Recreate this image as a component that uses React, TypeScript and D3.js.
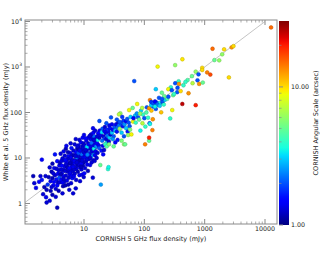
import React from 'react';
import * as d3 from 'd3';

// [CORNISH flux (mJy), White et al. flux (mJy), angular scale (arcsec)]
const faintSources: [number, number, number][] = [
  [1.5, 2.8, 1.3], [1.44, 4.0, 1.2], [1.6, 2.2, 1.4], [1.9, 4.0, 1.3], [2.0, 9.2, 1.5], [2.2, 2.3, 1.2], [2.4, 1.05, 1.3],
  [2.35, 1.37, 1.4], [2.0, 3.3, 1.6], [2.4, 2.0, 1.2], [2.3, 4.0, 1.3], [1.8, 3.0, 1.5], [2.5, 2.6, 1.8], [2.1, 1.6, 1.3],
  [2.7, 1.15, 1.3], [3.0, 1.55, 1.2], [3.4, 1.4, 1.3], [3.6, 0.81, 1.2], [2.8, 3.1, 1.4], [3.1, 2.5, 1.5], [3.3, 4.2, 1.3],
  [2.9, 5.0, 1.2], [3.5, 3.4, 1.6], [3.7, 2.9, 1.3], [2.6, 3.8, 1.2], [3.2, 6.0, 1.4], [3.8, 5.4, 1.3], [3.0, 7.5, 1.2],
  [3.6, 8.5, 1.5], [2.7, 6.2, 1.3], [3.9, 3.7, 2.0], [3.4, 2.1, 1.3], [3.0, 3.6, 1.2], [3.7, 4.5, 1.4], [2.9, 2.3, 1.3],
  [3.3, 12.0, 1.6], [3.8, 1.9, 1.2], [3.2, 3.0, 1.5], [3.5, 5.8, 1.3], [3.9, 6.8, 1.4], [3.1, 4.6, 1.3], [2.8, 1.9, 1.2],
  [3.6, 2.5, 1.5], [3.9, 2.9, 1.3],
  [4.1, 12.4, 1.3], [4.3, 4.7, 1.4], [4.4, 1.67, 1.3], [4.5, 2.4, 1.2], [4.2, 3.3, 1.5], [4.6, 5.5, 1.3], [4.8, 6.5, 1.4],
  [4.0, 7.8, 1.2], [4.7, 8.8, 1.6], [5.0, 4.1, 1.3], [5.2, 3.2, 1.4], [5.4, 5.0, 1.3], [5.1, 6.9, 1.5], [5.6, 7.5, 1.2],
  [5.3, 9.5, 1.3], [5.8, 4.4, 1.4], [6.0, 5.8, 1.3], [6.2, 8.2, 1.5], [5.5, 11.0, 1.4], [6.1, 2.8, 1.3], [4.9, 2.5, 1.2],
  [5.7, 2.0, 1.3], [6.4, 3.6, 1.6], [4.4, 9.8, 1.3], [4.6, 14.0, 1.4], [5.0, 16.0, 1.2], [5.9, 13.0, 1.5], [6.3, 11.5, 1.3],
  [4.2, 5.6, 1.3], [4.5, 4.0, 1.4], [4.9, 5.2, 1.3], [5.3, 6.2, 1.2], [5.6, 3.7, 1.3], [6.0, 4.8, 1.4], [6.3, 6.6, 1.5],
  [4.1, 4.4, 1.2], [4.7, 3.0, 1.3], [5.2, 8.0, 1.4], [5.8, 9.6, 1.3], [6.4, 7.4, 1.2], [4.3, 6.8, 1.5], [5.5, 5.6, 1.3],
  [6.1, 10.2, 1.4], [4.8, 11.2, 1.3], [5.4, 13.5, 1.2], [6.2, 16.5, 1.6], [5.0, 7.2, 1.3], [5.7, 6.0, 1.5], [6.5, 5.2, 1.3],
  [4.4, 2.9, 1.4], [6.6, 1.67, 1.3], [5.1, 18.5, 1.4], [6.0, 21.0, 1.3], [5.5, 2.6, 1.2], [4.6, 3.5, 1.3], [6.3, 4.1, 1.4],
  [4.2, 8.6, 1.3], [5.9, 7.8, 1.2], [4.9, 9.0, 1.5], [6.5, 9.0, 1.3],
];

const midSources: [number, number, number][] = [
  [7.3, 2.15, 1.3], [7.0, 4.5, 1.3], [7.5, 5.8, 1.4], [7.8, 7.0, 1.2], [8.2, 8.5, 1.3], [8.6, 6.2, 1.5], [9.0, 9.5, 1.3],
  [9.5, 11.0, 1.4], [7.2, 9.0, 1.3], [6.8, 11.5, 1.2], [7.6, 12.5, 1.6], [8.0, 14.0, 1.3], [8.8, 13.0, 1.4], [9.3, 15.5, 1.3],
  [9.8, 8.0, 1.2], [7.0, 7.8, 1.5], [7.4, 3.3, 1.3], [8.4, 4.2, 1.4], [9.1, 5.6, 1.3], [9.6, 6.8, 1.2], [6.9, 5.6, 1.3],
  [7.9, 10.0, 1.4], [8.5, 11.5, 1.3], [9.2, 12.0, 2.2], [9.9, 13.5, 1.3], [7.3, 26.0, 1.3], [8.1, 19.0, 1.4], [8.9, 22.0, 1.5],
  [9.4, 18.0, 1.3], [7.7, 16.0, 1.2], [6.7, 14.5, 1.3], [6.9, 8.6, 1.4], [7.5, 10.5, 2.5], [8.3, 7.2, 1.3], [8.7, 9.0, 1.2],
  [9.7, 10.2, 1.4], [7.1, 6.4, 1.3], [7.9, 5.0, 1.2], [8.6, 3.1, 1.3], [9.3, 4.3, 1.4], [9.9, 3.8, 1.3], [7.4, 13.5, 1.5],
  [8.0, 11.0, 1.3], [9.0, 7.6, 1.4], [9.6, 16.8, 1.3], [8.2, 16.5, 1.2], [7.0, 20.0, 1.3], [6.8, 3.9, 1.4], [8.4, 25.0, 1.3],
  [9.5, 28.0, 1.5], [7.6, 8.0, 1.3], [8.9, 6.4, 1.2], [9.8, 21.0, 1.3], [8.1, 12.8, 2.0], [7.2, 11.0, 1.3], [6.6, 6.4, 1.4],
  [9.3, 8.8, 1.3], [8.5, 14.6, 1.4], [7.8, 18.0, 1.3],
  [10.5, 12.0, 1.4], [11.0, 14.0, 1.3], [11.5, 10.5, 1.5], [12.0, 16.0, 1.3], [12.5, 13.0, 2.0], [13.0, 18.0, 1.4],
  [13.5, 15.5, 1.3], [14.0, 20.0, 1.5], [14.5, 12.5, 2.5], [15.0, 17.0, 1.3], [15.5, 22.0, 1.4], [10.8, 8.5, 1.3],
  [11.3, 7.2, 1.4], [12.2, 9.5, 1.3], [13.2, 11.0, 2.6], [14.2, 9.0, 1.3], [15.2, 11.5, 1.4], [10.2, 19.0, 1.3],
  [10.9, 24.0, 1.4], [11.8, 21.0, 1.3], [12.8, 26.0, 1.5], [13.8, 28.0, 1.3], [14.8, 30.0, 2.2], [15.8, 26.0, 1.4],
  [10.4, 6.0, 1.3], [11.6, 5.2, 1.2], [12.6, 7.0, 1.4], [14.0, 3.7, 1.3], [10.1, 4.6, 1.5], [11.2, 17.5, 3.2],
  [12.3, 12.0, 1.4], [13.6, 14.0, 1.3], [14.6, 16.0, 3.5], [15.6, 14.0, 1.4], [10.6, 15.0, 1.3], [11.9, 28.0, 1.4],
  [13.1, 33.0, 1.3], [14.3, 36.0, 1.5], [15.3, 40.0, 1.3], [10.3, 10.2, 1.4], [11.4, 11.8, 2.4], [12.7, 10.0, 1.3],
  [13.9, 24.0, 1.4], [15.0, 8.6, 1.3], [12.0, 20.0, 1.4], [13.3, 21.5, 2.2], [14.7, 25.0, 1.3], [10.7, 27.0, 1.5],
  [11.1, 9.2, 1.3], [14.9, 19.0, 1.4], [16.0, 18.0, 2.5], [12.4, 30.5, 1.3], [10.0, 32.0, 1.4], [13.4, 8.0, 1.3],
  [14.1, 45.0, 1.4],
  [16.5, 21.0, 1.5], [17.0, 25.0, 3.5], [17.5, 19.0, 1.4], [18.0, 28.0, 1.3], [18.6, 7.0, 5.0], [19.0, 2.6, 2.6],
  [19.0, 32.0, 1.4], [20.0, 24.0, 2.2], [21.0, 30.0, 1.3], [22.0, 27.0, 1.8], [23.0, 35.0, 1.4], [24.0, 22.0, 3.5],
  [25.0, 5.7, 3.8], [25.5, 6.3, 3.5], [16.8, 13.0, 1.3], [17.8, 16.5, 2.0], [19.5, 14.5, 1.6], [20.5, 18.5, 1.4],
  [21.5, 15.0, 1.3], [22.5, 20.0, 4.0], [23.5, 26.0, 1.3], [24.5, 31.0, 2.2], [25.5, 38.0, 1.4], [26.5, 28.0, 3.0],
  [27.5, 33.0, 1.3], [18.2, 40.0, 1.4], [20.2, 44.0, 2.0], [22.2, 48.0, 1.3], [24.2, 42.0, 1.7], [26.2, 52.0, 1.4],
  [18.0, 65.0, 2.0], [23.5, 58.0, 2.0], [28.0, 78.0, 2.0], [16.2, 10.0, 1.3], [17.2, 35.0, 1.5], [19.8, 37.0, 3.2],
  [21.8, 39.0, 1.4], [23.8, 18.0, 4.5], [25.8, 23.0, 1.3], [27.0, 45.0, 1.6], [16.6, 30.0, 1.3], [20.8, 12.0, 1.5],
  [26.0, 20.0, 5.5],
];

const brightSources: [number, number, number][] = [
  [29, 36, 3], [30, 42, 1.5], [31, 30, 2], [32, 48, 2], [33, 40, 3], [34, 55, 1.4], [35, 38, 1.6], [36, 46, 2.2],
  [37, 60, 1.3], [38, 52, 2.2], [39, 44, 6], [40, 96, 6], [38, 91, 7], [41, 58, 2], [42, 36, 3], [44, 50, 1.6],
  [45, 66, 1.8], [46, 20, 6], [47, 55, 2.5], [48, 20, 5], [50, 64, 1.5], [50, 45, 3], [52, 72, 2], [53, 38, 1.6],
  [55, 60, 2], [56, 113, 9], [57, 50, 2], [59, 80, 3], [30, 26, 2.5], [33, 22, 1.5], [29, 55, 1.4], [35, 70, 2],
  [43, 80, 1.8], [46, 30, 2], [54, 32, 6], [58, 42, 5.5], [31, 18, 5], [36, 25, 1.6], [42, 24, 5.5], [39, 62, 2],
  [61, 33, 9], [64, 126, 5], [65, 63, 9], [68, 490, 2], [70, 85, 3], [72, 60, 4], [75, 95, 2.5], [76, 154, 9],
  [79, 78, 2], [82, 70, 5], [86, 40, 3.5], [88, 110, 3], [92, 126, 7], [93, 58, 7], [95, 90, 4], [100, 75, 2],
  [103, 20, 14], [104, 49, 4], [110, 130, 2], [115, 77, 4], [120, 24, 5], [120, 28, 20], [120, 124, 13], [122, 58, 2],
  [124, 187, 14], [124, 56, 3.5], [131, 110, 11], [136, 41, 14], [138, 71, 13], [145, 150, 2], [150, 162, 1.8],
  [160, 165, 2], [170, 150, 2.5], [180, 160, 3.5], [66, 75, 1.5], [85, 95, 6], [108, 100, 4.5], [140, 135, 2],
  [155, 120, 2], [130, 145, 3], [130, 170, 1.8], [140, 160, 2], [150, 175, 1.5], [165, 150, 2.2], [180, 140, 3],
  [200, 165, 2], [210, 150, 4], [150, 135, 3.5],
  [190, 101, 11], [290, 113, 9], [268, 74, 4], [426, 154, 25], [710, 145, 20], [200, 180, 2], [220, 190, 3],
  [175, 210, 2], [240, 200, 4.5], [300, 240, 5], [350, 280, 2],
  [12600, 7400, 15], [166, 1020, 9], [324, 1100, 6], [427, 1480, 9.5], [1350, 2520, 15], [2100, 2450, 10],
  [2800, 2700, 13], [3000, 2880, 10], [1950, 1900, 6], [1450, 1420, 5], [1740, 1400, 6], [2520, 590, 10],
  [1100, 760, 14], [1240, 680, 17], [910, 960, 10], [910, 860, 10], [710, 790, 6], [790, 690, 2], [760, 510, 2],
  [615, 630, 5], [520, 515, 4.5], [480, 470, 4], [630, 440, 7], [810, 425, 13], [930, 455, 5], [370, 485, 4],
  [325, 440, 2], [375, 425, 13], [400, 295, 10], [540, 265, 13], [155, 325, 3], [355, 350, 2], [445, 395, 4],
  [275, 358, 4], [250, 325, 9], [285, 310, 2], [310, 255, 4], [195, 272, 5], [213, 230, 5], [250, 223, 2],
  [196, 200, 2],
];

const xMajor = [10, 100, 1000, 10000];
const yMajor = [1, 10, 100, 1000, 10000];
const cMajor = [1, 10];

const W = 322, H = 255;
const M = { left: 25, right: 277, top: 20, bottom: 224 };
const CB = { left: 279, right: 289, top: 21, bottom: 225 };
const FONT = 'DejaVu Sans, sans-serif';
const AXIS = '#8a8a8a';

// matplotlib "jet"
const jr = d3.scaleLinear<number>().domain([0, 0.35, 0.66, 0.89, 1]).range([0, 0, 1, 1, 0.5]).clamp(true);
const jg = d3.scaleLinear<number>().domain([0, 0.125, 0.375, 0.64, 0.91, 1]).range([0, 0, 1, 1, 0, 0]).clamp(true);
const jb = d3.scaleLinear<number>().domain([0, 0.11, 0.34, 0.65, 1]).range([0.5, 1, 1, 0, 0]).clamp(true);
const jet = (t: number) => d3.rgb(jr(t) * 255, jg(t) * 255, jb(t) * 255);

function minors(lo: number, hi: number) {
  const out: number[] = [];
  for (let e = -1; e <= 4; e++) {
    for (let k = 2; k <= 9; k++) {
      const v = k * Math.pow(10, e);
      if (v > lo && v < hi) out.push(v);
    }
  }
  return out;
}

const App: React.FC = () => {
  const x = d3.scaleLog().domain([1.052, 15800]).range([M.left, M.right]);
  const y = d3.scaleLog().domain([0.354, 10790]).range([M.bottom, M.top]);
  const c = d3.scaleLog().domain([1, 30]).range([CB.bottom, CB.top]);
  const t = d3.scaleLog().domain([1, 30]).range([0, 1]).clamp(true);

  const points = [...faintSources, ...midSources, ...brightSources];
  const line = d3.line<number>().x(d => x(d)).y(d => y(d));
  const stops = d3.range(0, 1.0001, 0.02);

  const yLabel = (v: number) => {
    if (v >= 1000) {
      return (
        <>
          10<tspan dy={-3} fontSize={4.5}>{Math.round(Math.log10(v))}</tspan>
        </>
      );
    }
    return String(v);
  };

  return (
    <svg width={W} height={H} style={{ position: 'absolute', left: 0, top: 0, background: '#fff' }} fontFamily={FONT}>
      <defs>
        <linearGradient id="jetGrad" x1="0" y1="1" x2="0" y2="0">
          {stops.map(s => <stop key={s} offset={s} stopColor={jet(s).formatHex()} />)}
        </linearGradient>
        <clipPath id="plotClip">
          <rect x={M.left} y={M.top} width={M.right - M.left} height={M.bottom - M.top} />
        </clipPath>
      </defs>

      {/* one-to-one line */}
      <path d={line([1.052, 10000]) || ''} stroke="#aaa" strokeWidth={0.7} fill="none" clipPath="url(#plotClip)" />

      <g clipPath="url(#plotClip)">
        {points.map((p, i) => {
          const col = jet(t(p[2]));
          return (
            <circle key={i} cx={x(p[0])} cy={y(p[1])} r={1.9}
              fill={col.formatHex()} stroke={col.darker(0.8).formatHex()} strokeWidth={0.5} />
          );
        })}
      </g>

      {/* frame */}
      <rect x={M.left} y={M.top} width={M.right - M.left} height={M.bottom - M.top} fill="none" stroke={AXIS} strokeWidth={1} />

      {/* x ticks, bottom and top */}
      {xMajor.map(v => (
        <g key={'xm' + v}>
          <line x1={x(v)} x2={x(v)} y1={M.bottom} y2={M.bottom - 5} stroke={AXIS} />
          <line x1={x(v)} x2={x(v)} y1={M.top} y2={M.top + 5} stroke={AXIS} />
          <text x={x(v)} y={230.5} fontSize={6.3} textAnchor="middle" fill="#222">{v}</text>
        </g>
      ))}
      {minors(1.052, 15800).map(v => (
        <g key={'xn' + v}>
          <line x1={x(v)} x2={x(v)} y1={M.bottom} y2={M.bottom - 2.5} stroke={AXIS} strokeWidth={0.7} />
          <line x1={x(v)} x2={x(v)} y1={M.top} y2={M.top + 2.5} stroke={AXIS} strokeWidth={0.7} />
        </g>
      ))}

      {/* y ticks */}
      {yMajor.map(v => (
        <g key={'ym' + v}>
          <line x1={M.left} x2={M.left + 5} y1={y(v)} y2={y(v)} stroke={AXIS} />
          <text x={22} y={y(v) + 2.3} fontSize={6.3} textAnchor="end" fill="#222">{yLabel(v)}</text>
        </g>
      ))}
      {minors(0.354, 10790).map(v => (
        <line key={'yn' + v} x1={M.left} x2={M.left + 2.5} y1={y(v)} y2={y(v)} stroke={AXIS} strokeWidth={0.7} />
      ))}

      <text x={151} y={241} fontSize={6.5} textAnchor="middle" fill="#222">CORNISH 5 GHz flux density (mJy)</text>
      <text transform={`translate(8,${(M.top + M.bottom) / 2}) rotate(-90)`} fontSize={6.5} textAnchor="middle" fill="#222">
        White et al. 5 GHz flux density (mJy)
      </text>

      {/* colorbar */}
      <rect x={CB.left} y={CB.top} width={CB.right - CB.left} height={CB.bottom - CB.top} fill="url(#jetGrad)" />
      {cMajor.map(v => (
        <g key={'cm' + v}>
          <line x1={CB.left} x2={CB.left + 4} y1={c(v)} y2={c(v)} stroke={AXIS} />
          <text x={291} y={c(v) + 2.3} fontSize={6.3} fill="#222">{v.toFixed(2)}</text>
        </g>
      ))}
      {minors(1, 30).map(v => (
        <line key={'cn' + v} x1={CB.left} x2={CB.left + 2.5} y1={c(v)} y2={c(v)} stroke={AXIS} strokeWidth={0.7} />
      ))}
      <text transform={`translate(318,${(CB.top + CB.bottom) / 2}) rotate(-90)`} fontSize={6.5} textAnchor="middle" fill="#222">
        CORNISH Angular Scale (arcsec)
      </text>
    </svg>
  );
};

export default App;
